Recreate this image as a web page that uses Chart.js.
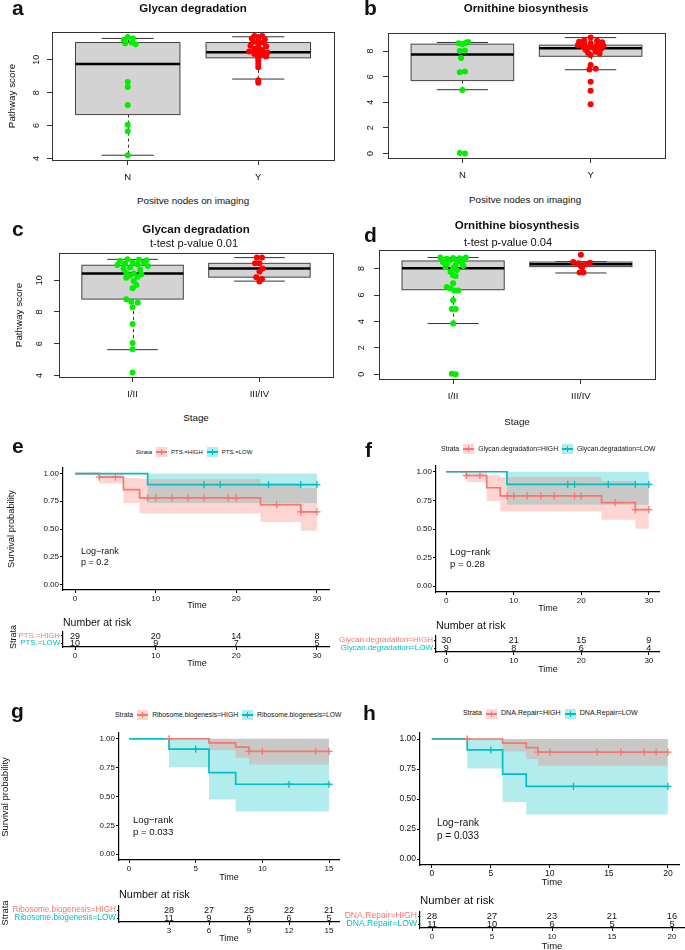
<!DOCTYPE html>
<html>
<head>
<meta charset="utf-8">
<script src="https://cdn.jsdelivr.net/npm/chart.js@4.4.1/dist/chart.umd.min.js"></script>
<style>
  html, body { margin: 0; padding: 0; background: #fff; }
  #fig { position: relative; width: 685px; height: 950px; overflow: hidden; font-family: 'Liberation Sans', Arial, sans-serif; color: #111; }
  #fig canvas { position: absolute; }
  .t { position: absolute; line-height: 1; white-space: nowrap; transform: translate(-50%, -50%); }
  .l { position: absolute; line-height: 1; white-space: nowrap; transform: translate(0, -50%); }
  .r { transform: translate(-50%, -50%) rotate(-90deg); }
  .lbl { position: absolute; font-weight: bold; font-size: 21px; line-height: 1; }
  .leg { position: absolute; display: flex; align-items: center; line-height: 1; transform: translateY(-50%); white-space: nowrap; }
  .key { position: relative; display: inline-block; width: 11px; height: 10px; margin-right: 4px; }
  .key i { position: absolute; left: 0; right: 0; top: 4.4px; height: 1.2px; }
  .key b { position: absolute; left: 4.9px; width: 1.2px; top: 2px; height: 6px; }
</style>
</head>
<body>
<div id="fig"></div>
<script>
// ---------- box plot data (a-d) ----------
const nodeCats = ['N', 'Y'];
const stageCats = ['I/II', 'III/IV'];
const glycanTicks = [4, 6, 8, 10];
const ornTicks = [0, 2, 4, 6, 8];

// [lower whisker, Q1, median, Q3, upper whisker] per group
const aBox = [[4.2, 6.67, 9.75, 11.05, 11.3], [8.83, 10.12, 10.46, 11.05, 11.4]];
const bBox = [[4.98, 5.69, 7.72, 8.54, 8.67], [6.54, 7.59, 8.21, 8.46, 9.05]];
const cBox = [[5.63, 8.81, 10.42, 10.94, 11.31], [9.94, 10.19, 10.73, 11.06, 11.42]];
const dBox = [[3.84, 6.4, 8.03, 8.58, 8.84], [7.67, 8.15, 8.33, 8.5, 8.53]];

// beeswarm points: values and horizontal offsets (category units)
const aNVals = [11.38, 11.3, 11.22, 11.05, 11.0, 10.95, 8.65, 8.35, 7.25, 6.05, 5.65, 4.2];
const aNOff = [0.0, 0.04, -0.03, 0.03, -0.02, 0.06, 0, 0, 0, 0, 0, 0];
const aYVals = [11.45, 11.45, 11.38, 11.3, 11.25, 11.18, 11.1, 11.05, 10.95, 10.85, 10.82, 10.75, 10.65, 10.6,
  10.5, 10.48, 10.45, 10.35, 10.3, 10.25, 10.2, 10.1, 9.95, 9.75, 9.55, 8.75, 8.6];
const aYOff = [-0.03, 0.03, 0.0, -0.05, 0.05, 0.0, -0.04, 0.04, 0.0, -0.06, 0.06, 0.0, -0.03, 0.03,
  -0.07, 0.0, 0.07, -0.03, 0.03, 0.0, 0.06, 0.0, 0.0, 0.0, 0.0, 0.0, 0.0];

const bNVals = [8.7, 8.62, 8.6, 8.55, 8.05, 8.0, 7.45, 6.4, 6.35, 4.95, 0.03, 0.0];
const bNOff = [0.045, 0.025, -0.03, 0.0, 0.02, -0.02, -0.01, 0.02, -0.02, 0.0, -0.02, 0.02];
const bYVals = [9.05, 8.85, 8.8, 8.72, 8.68, 8.62, 8.55, 8.5, 8.45, 8.42, 8.38, 8.35, 8.3, 8.25, 8.2, 8.15, 8.1,
  7.95, 7.85, 7.8, 7.7, 6.9, 6.62, 6.55, 5.6, 4.9, 3.85];
const bYOff = [0.0, -0.05, 0.05, -0.09, 0.09, 0.0, -0.05, 0.05, -0.1, 0.1, 0.0, -0.06, 0.06, -0.02, 0.03, 0.08, -0.04,
  0.04, -0.02, 0.07, 0.0, 0.0, 0.04, -0.01, 0.0, 0.0, 0.0];

const cLowVals = [11.32, 11.28, 11.25, 11.2, 11.12, 11.1, 11.05, 11.0, 10.95, 10.9, 10.8, 10.72, 10.65, 10.45, 10.42,
  10.38, 10.3, 10.22, 10.15, 9.95, 9.7, 9.5, 8.8, 8.65, 8.6, 8.3, 7.25, 6.05, 5.65, 4.2];
const cLowOff = [-0.04, 0.05, 0.11, -0.1, 0.0, 0.09, -0.06, 0.04, -0.12, 0.12, -0.02, -0.07, 0.06, -0.05, 0.01,
  0.07, -0.02, 0.04, -0.05, 0.01, 0.03, 0.0, -0.05, -0.01, 0.04, 0.0, 0.0, 0.0, 0.0, 0.0];
const cHighVals = [11.42, 11.42, 11.06, 11.06, 10.73, 10.54, 10.19, 10.08, 9.92];
const cHighOff = [-0.02, 0.02, -0.035, 0.0, 0.025, 0.0, -0.025, 0.02, 0.0];

const dLowVals = [8.85, 8.85, 8.8, 8.78, 8.75, 8.7, 8.62, 8.55, 8.5, 8.45, 8.32, 8.28, 8.2, 8.1, 8.05, 7.9, 7.75,
  7.5, 7.45, 6.9, 6.6, 6.5, 6.35, 6.35, 5.6, 4.95, 4.95, 3.85, 0.03, 0.0];
const dLowOff = [-0.1, 0.1, 0.0, 0.05, -0.05, 0.08, -0.03, 0.03, -0.08, 0.07, -0.05, 0.02, 0.08, -0.06, 0.0, 0.03,
  -0.02, 0.0, 0.02, 0.0, -0.05, -0.02, 0.01, 0.04, 0.0, -0.01, 0.02, 0.0, -0.01, 0.02];
const dHighVals = [9.05, 8.5, 8.45, 8.4, 8.35, 8.2, 8.1, 7.7, 7.7];
const dHighOff = [0.0, -0.06, 0.07, -0.02, 0.04, 0.0, 0.01, -0.01, 0.02];

// ---------- survival data (e-h) ----------
const survTicks = [0, 0.25, 0.5, 0.75, 1];

const ptsHighT = [0, 3, 6, 8, 23, 28, 30];
const ptsHighS = [1, 0.967, 0.855, 0.78, 0.72, 0.655, 0.655];
const ptsHighLo = [1, 0.91, 0.735, 0.64, 0.563, 0.485, 0.485];
const ptsHighUp = [1, 1, 0.96, 0.95, 0.91, 0.87, 0.87];
const ptsHighCens = [3, 5, 9, 10, 12, 14, 16, 19, 20, 25, 28, 30];
const ptsLowT = [0, 9, 30];
const ptsLowS = [1, 0.9, 0.9];
const ptsLowLo = [1, 0.735, 0.735];
const ptsLowUp = [1, 1, 1];
const ptsLowCens = [16, 18, 24, 28, 30];

const glyHighT = [0, 3, 6, 8, 23, 28, 30];
const glyHighS = [1, 0.967, 0.86, 0.79, 0.73, 0.67, 0.67];
const glyHighLo = [1, 0.91, 0.744, 0.653, 0.58, 0.503, 0.503];
const glyHighUp = [1, 1, 0.97, 0.955, 0.92, 0.88, 0.88];
const glyHighCens = [3, 5, 9, 10, 12, 14, 16, 19, 20, 25, 28, 30];
const glyLowT = [0, 9, 30];
const glyLowS = [1, 0.89, 0.89];
const glyLowLo = [1, 0.712, 0.712];
const glyLowUp = [1, 1, 1];
const glyLowCens = [18, 19, 24, 28, 30];

const riboHighT = [0, 6, 8, 9, 15];
const riboHighS = [1, 0.965, 0.928, 0.89, 0.89];
const riboHighLo = [1, 0.9, 0.835, 0.777, 0.777];
const riboHighUp = [1, 1, 1, 1, 1];
const riboHighCens = [3, 9, 10, 14, 15];
const riboLowT = [0, 3, 6, 8, 15];
const riboLowS = [1, 0.91, 0.707, 0.606, 0.606];
const riboLowLo = [1, 0.754, 0.475, 0.371, 0.371];
const riboLowUp = [1, 1, 1, 1, 1];
const riboLowCens = [5, 12, 15];

const dnaHighT = [0, 6, 8, 9, 20];
const dnaHighS = [1, 0.965, 0.928, 0.89, 0.89];
const dnaHighLo = [1, 0.895, 0.833, 0.777, 0.777];
const dnaHighUp = [1, 1, 1, 1, 1];
const dnaHighCens = [3, 9, 10, 14, 16, 18, 19, 20];
const dnaLowT = [0, 3, 6, 8, 20];
const dnaLowS = [1, 0.91, 0.707, 0.606, 0.606];
const dnaLowLo = [1, 0.755, 0.476, 0.37, 0.37];
const dnaLowUp = [1, 1, 1, 1, 1];
const dnaLowCens = [5, 12, 20];

// numbers at risk
const ptsRiskTimes = [0, 10, 20, 30];
const ptsRiskHigh = [29, 20, 14, 8];
const ptsRiskLow = [10, 9, 7, 5];
const glyRiskTimes = [0, 10, 20, 30];
const glyRiskHigh = [30, 21, 15, 9];
const glyRiskLow = [9, 8, 6, 4];
const riboRiskTimes = [3, 6, 9, 12, 15];
const riboRiskHigh = [28, 27, 25, 22, 21];
const riboRiskLow = [11, 9, 6, 6, 5];
const dnaRiskTimes = [0, 5, 10, 15, 20];
const dnaRiskHigh = [28, 27, 23, 21, 16];
const dnaRiskLow = [11, 10, 6, 5, 5];

// ---------- setup ----------
const FONT = "'Liberation Sans', Arial, sans-serif";
Chart.defaults.font.family = FONT;
Chart.defaults.color = '#111';
Chart.defaults.animation = false;
Chart.defaults.events = [];
Chart.defaults.plugins.legend.display = false;
Chart.defaults.plugins.tooltip.enabled = false;

const RED = '#F8766D', TEAL = '#00BFC4';
const RED_BAND = 'rgba(248,118,109,0.3)', TEAL_BAND = 'rgba(0,191,196,0.3)';
const GREEN_PT = '#00ee00', RED_PT = '#ff0000';

const fig = document.getElementById('fig');

// canvas placed so that the chart area lands on `area` [L, T, R, B]; m = [left, top, right, bottom] margins
function canvasFor(area, m) {
  const c = document.createElement('canvas');
  const w = area[2] - area[0] + m[0] + m[2];
  const h = area[3] - area[1] + m[1] + m[3];
  c.width = w; c.height = h;
  c.style.left = (area[0] - m[0]) + 'px';
  c.style.top = (area[1] - m[1]) + 'px';
  c.style.width = w + 'px'; c.style.height = h + 'px';
  fig.appendChild(c);
  return c;
}
const fixedTicks = arr => s => { s.ticks = arr.map(v => ({ value: v })); };

// R-style boxplot + frame, drawn under the points
const boxPlugin = {
  id: 'rbox',
  beforeDatasetsDraw(chart, args, opts) {
    const { ctx, chartArea: a, scales: { x, y } } = chart;
    ctx.save();
    opts.stats.forEach((s, i) => {
      const c = i + 1;
      const xl = x.getPixelForValue(c - 0.4), xr = x.getPixelForValue(c + 0.4);
      const sl = x.getPixelForValue(c - 0.2), sr = x.getPixelForValue(c + 0.2);
      const xc = Math.round(x.getPixelForValue(c)) + 0.5;
      const [lo, q1, md, q3, hi] = s.map(v => y.getPixelForValue(v));
      ctx.lineWidth = 1;
      ctx.strokeStyle = '#333';
      ctx.setLineDash([3, 3]);
      ctx.beginPath();
      ctx.moveTo(xc, q3); ctx.lineTo(xc, hi);
      ctx.moveTo(xc, q1); ctx.lineTo(xc, lo);
      ctx.stroke();
      ctx.setLineDash([]);
      ctx.beginPath();
      ctx.moveTo(sl, hi); ctx.lineTo(sr, hi);
      ctx.moveTo(sl, lo); ctx.lineTo(sr, lo);
      ctx.stroke();
      ctx.fillStyle = '#d3d3d3';
      ctx.fillRect(xl, q3, xr - xl, q1 - q3);
      ctx.strokeStyle = '#444';
      ctx.strokeRect(xl, q3, xr - xl, q1 - q3);
      ctx.lineWidth = 2.5;
      ctx.strokeStyle = '#000';
      ctx.beginPath(); ctx.moveTo(xl, md); ctx.lineTo(xr, md); ctx.stroke();
    });
    ctx.lineWidth = 1;
    ctx.strokeStyle = '#333';
    ctx.strokeRect(a.left + 0.5, a.top + 0.5, a.right - a.left, a.bottom - a.top);
    ctx.restore();
  }
};

function boxChart(area, m, cats, stats, groups, yRange, yTicks, yPad) {
  new Chart(canvasFor(area, m), {
    type: 'scatter',
    data: {
      datasets: groups.map((g, i) => ({
        data: g.v.map((v, k) => ({ x: i + 1 + g.o[k], y: v })),
        backgroundColor: g.c, borderWidth: 0, pointRadius: 3
      }))
    },
    options: {
      responsive: false,
      layout: { padding: { left: 0, top: m[1], right: m[2], bottom: 0 } },
      scales: {
        x: {
          type: 'linear', min: 0.42, max: 2.58,
          afterBuildTicks: fixedTicks([1, 2]),
          ticks: { callback: (v, i) => cats[i], font: { size: 9.5 }, color: '#111', padding: 7, autoSkip: false, maxRotation: 0 },
          grid: { drawOnChartArea: false, tickLength: 5, color: '#333' },
          border: { display: false },
          afterFit: s => { s.height = m[3]; }
        },
        y: {
          type: 'linear', min: yRange[0], max: yRange[1],
          afterBuildTicks: fixedTicks(yTicks),
          ticks: { minRotation: 90, maxRotation: 90, crossAlign: 'center', padding: yPad, font: { size: 9 }, color: '#111', autoSkip: false },
          grid: { drawOnChartArea: false, tickLength: 5, color: '#333' },
          border: { display: false },
          afterFit: s => { s.width = m[0]; }
        }
      },
      plugins: { rbox: { stats } }
    },
    plugins: [boxPlugin]
  });
}

// survival value at time c from a step curve
function survAt(t, s, c) {
  let v = s[0];
  t.forEach((x, i) => { if (x <= c) v = s[i]; });
  return v;
}
const xy = (t, v) => t.map((x, i) => ({ x, y: v[i] }));

function kmAxes(m, xMax, xTicks, tickFont) {
  const axisBase = {
    grid: { drawOnChartArea: false, tickLength: 3, color: '#000', lineWidth: 1 },
    border: { display: true, color: '#000', width: 1.2 }
  };
  return {
    x: Object.assign({
      type: 'linear', min: -xMax * 0.05, max: xMax * 1.05,
      afterBuildTicks: fixedTicks(xTicks),
      ticks: { font: { size: tickFont }, color: '#111', padding: 1, autoSkip: false, maxRotation: 0 },
      afterFit: s => { s.height = m[3]; }
    }, axisBase),
    y: Object.assign({
      type: 'linear', min: -0.05, max: 1.05,
      afterBuildTicks: fixedTicks(survTicks),
      ticks: { callback: v => v.toFixed(2), font: { size: tickFont }, color: '#111', padding: 1, autoSkip: false },
      afterFit: s => { s.width = m[0]; }
    }, axisBase)
  };
}

function kmChart(area, m, xMax, xTicks, tickFont, strata) {
  const datasets = [];
  strata.forEach(g => {
    datasets.push({ data: xy(g.t, g.lo), stepped: true, borderWidth: 0, borderColor: 'transparent', pointRadius: 0, fill: false, order: 3 });
    datasets.push({ data: xy(g.t, g.up), stepped: true, borderWidth: 0, borderColor: 'transparent', pointRadius: 0, fill: '-1', backgroundColor: g.band, order: 3 });
  });
  strata.forEach((g, k) => {
    datasets.push({ data: xy(g.t, g.s), stepped: true, borderColor: g.line, borderWidth: 1.7, pointRadius: 0, fill: false, order: 2 - k * 0.5 });
    datasets.push({
      data: g.cens.map(c => ({ x: c, y: survAt(g.t, g.s, c) })),
      showLine: false, pointStyle: 'cross', pointRadius: 3.6, borderWidth: 1.3,
      borderColor: g.line, backgroundColor: g.line, order: 1 - k * 0.5
    });
  });
  new Chart(canvasFor(area, m), {
    type: 'line',
    data: { datasets },
    options: {
      responsive: false,
      layout: { padding: { left: 0, top: m[1], right: m[2], bottom: 0 } },
      scales: kmAxes(m, xMax, xTicks, tickFont)
    }
  });
}

const riskPlugin = {
  id: 'risk',
  afterDraw(chart, args, opts) {
    const { ctx, scales: { x, y } } = chart;
    ctx.save();
    ctx.fillStyle = '#111';
    ctx.font = opts.size + 'px ' + FONT;
    ctx.textAlign = 'center';
    ctx.textBaseline = 'middle';
    opts.rows.forEach((row, i) => row.forEach((n, j) => {
      ctx.fillText(String(n), x.getPixelForValue(opts.times[j]), y.getPixelForValue(i) + 0.5);
    }));
    ctx.restore();
  }
};

function riskChart(area, m, xMax, times, rows, labels, labelFont, numFont) {
  const axes = kmAxes(m, xMax, times, 8);
  axes.y = {
    type: 'category', labels, offset: true,
    ticks: { color: c => [RED, TEAL][c.index], font: { size: labelFont }, padding: 1, autoSkip: false },
    grid: { drawOnChartArea: false, tickLength: 2, color: '#000' },
    border: { display: true, color: '#000', width: 1.2 },
    afterFit: s => { s.width = m[0]; }
  };
  new Chart(canvasFor(area, m), {
    type: 'line',
    data: { datasets: [] },
    options: {
      responsive: false,
      layout: { padding: { left: 0, top: m[1], right: m[2], bottom: 0 } },
      scales: axes,
      plugins: { risk: { rows, times, size: numFont } }
    },
    plugins: [riskPlugin]
  });
}

// ---------- charts ----------
boxChart([52, 32, 334, 160], [40, 18, 6, 30], nodeCats, aBox,
  [{ v: aNVals, o: aNOff, c: GREEN_PT }, { v: aYVals, o: aYOff, c: RED_PT }], [3.91, 11.69], glycanTicks, 5);
boxChart([388, 33, 665, 158], [40, 18, 10, 30], nodeCats, bBox,
  [{ v: bNVals, o: bNOff, c: GREEN_PT }, { v: bYVals, o: bYOff, c: RED_PT }], [-0.36, 9.41], ornTicks, 9.5);
boxChart([59, 253, 333, 377], [40, 18, 7, 30], stageCats, cBox,
  [{ v: cLowVals, o: cLowOff, c: GREEN_PT }, { v: cHighVals, o: cHighOff, c: RED_PT }], [3.91, 11.71], glycanTicks, 9);
boxChart([379, 250, 655, 379], [40, 18, 10, 30], stageCats, dBox,
  [{ v: dLowVals, o: dLowOff, c: GREEN_PT }, { v: dHighVals, o: dHighOff, c: RED_PT }], [-0.36, 9.41], ornTicks, 9.8);

kmChart([63, 468, 329, 590], [50, 10, 8, 16], 30, [0, 10, 20, 30], 8, [
  { t: ptsHighT, s: ptsHighS, lo: ptsHighLo, up: ptsHighUp, cens: ptsHighCens, line: RED, band: RED_BAND },
  { t: ptsLowT, s: ptsLowS, lo: ptsLowLo, up: ptsLowUp, cens: ptsLowCens, line: TEAL, band: TEAL_BAND }
]);
kmChart([436, 466, 659, 592], [40, 10, 10, 16], 30, [0, 10, 20, 30], 8, [
  { t: glyHighT, s: glyHighS, lo: glyHighLo, up: glyHighUp, cens: glyHighCens, line: RED, band: RED_BAND },
  { t: glyLowT, s: glyLowS, lo: glyLowLo, up: glyLowUp, cens: glyLowCens, line: TEAL, band: TEAL_BAND }
]);
kmChart([119, 733, 339, 860], [40, 10, 8, 16], 15, [0, 5, 10, 15], 8, [
  { t: riboHighT, s: riboHighS, lo: riboHighLo, up: riboHighUp, cens: riboHighCens, line: RED, band: RED_BAND },
  { t: riboLowT, s: riboLowS, lo: riboLowLo, up: riboLowUp, cens: riboLowCens, line: TEAL, band: TEAL_BAND }
]);
kmChart([420, 733, 684, 865], [40, 10, 1, 16], 20, [0, 5, 10, 15, 20], 8.5, [
  { t: dnaHighT, s: dnaHighS, lo: dnaHighLo, up: dnaHighUp, cens: dnaHighCens, line: RED, band: RED_BAND },
  { t: dnaLowT, s: dnaLowS, lo: dnaLowLo, up: dnaLowUp, cens: dnaLowCens, line: TEAL, band: TEAL_BAND }
]);

riskChart([63, 632, 329, 647], [60, 8, 8, 14], 30, ptsRiskTimes, [ptsRiskHigh, ptsRiskLow],
  ['PTS.=HIGH', 'PTS.=LOW'], 7.8, 9);
riskChart([436, 636, 659, 652], [116, 8, 10, 14], 30, glyRiskTimes, [glyRiskHigh, glyRiskLow],
  ['Glycan.degradation=HIGH', 'Glycan.degradation=LOW'], 8, 9);
riskChart([119, 906, 339, 922], [116, 8, 8, 14], 15, riboRiskTimes, [riboRiskHigh, riboRiskLow],
  ['Ribosome.biogenesis=HIGH', 'Ribosome.biogenesis=LOW'], 8.2, 9);
riskChart([420, 912, 684, 928], [110, 8, 1, 14], 20, dnaRiskTimes, [dnaRiskHigh, dnaRiskLow],
  ['DNA.Repair=HIGH', 'DNA.Repair=LOW'], 8.6, 9.3);

// ---------- text ----------
function text(s, x, y, cls, size, extra) {
  const d = document.createElement('div');
  d.className = cls;
  d.textContent = s;
  d.style.left = x + 'px';
  d.style.top = y + 'px';
  if (size) d.style.fontSize = size + 'px';
  if (extra) Object.assign(d.style, extra);
  fig.appendChild(d);
}
const bold = { fontWeight: 'bold' };

// panel letters (top = baseline - 0.85 * size)
[['a', 12, -3], ['b', 364, -3], ['c', 12, 218], ['d', 364, 224],
 ['e', 12, 435], ['f', 365, 439], ['g', 11, 700], ['h', 363, 702]].forEach(p => text(p[0], p[1], p[2], 'lbl'));

// box plot titles / axes
text('Glycan degradation', 193, 9, 't', 11.5, bold);
text('Ornithine biosynthesis', 526, 9, 't', 11.5, bold);
text('Pathway score', 12, 96, 't r', 9.8);
text('Positve nodes on imaging', 193, 201, 't', 9.8);
text('Positve nodes on imaging', 525, 200, 't', 9.8);
text('Glycan degradation', 196, 230, 't', 11.5, bold);
text('t-test p-value 0.01', 194, 243, 't', 11);
text('Pathway score', 19, 315, 't r', 9.8);
text('Stage', 196, 418, 't', 9.8);
text('Ornithine biosynthesis', 517, 226, 't', 11.5, bold);
text('t-test p-value 0.04', 508, 242, 't', 11);
text('Stage', 517, 422, 't', 9.8);

// survival legends
function legend(x, y, size, names) {
  const d = document.createElement('div');
  d.className = 'leg';
  d.style.left = x + 'px';
  d.style.top = y + 'px';
  d.style.fontSize = size + 'px';
  const lines = [RED, TEAL], bands = [RED_BAND, TEAL_BAND];
  d.innerHTML = '<span style="margin-right:4px">Strata</span>' + names.map((n, i) =>
    `<span class="key" style="background:${bands[i]}"><i style="background:${lines[i]}"></i><b style="background:${lines[i]}"></b></span>` +
    `<span style="margin-right:4px">${n}</span>`).join('');
  fig.appendChild(d);
}
legend(136, 452, 6, ['PTS.=HIGH', 'PTS.=LOW']);
legend(441, 449, 6.8, ['Glycan.degradation=HIGH', 'Glycan.degradation=LOW']);
legend(115, 715, 6.8, ['Ribosome.biogenesis=HIGH', 'Ribosome.biogenesis=LOW']);
legend(463, 714, 7.1, ['DNA.Repair=HIGH', 'DNA.Repair=LOW']);

// e
text('Survival probability', 12, 529, 't r', 9.3);
text('Log\u2212rank', 81, 551, 'l', 9);
text('p = 0.2', 81, 562, 'l', 9);
text('Time', 197, 605, 't', 9);
text('Number at risk', 63, 622, 'l', 10.5);
text('Strata', 13, 637, 't r', 9);
text('Time', 197, 663, 't', 9);
// f
text('Log\u2212rank', 450, 552, 'l', 9.6);
text('p = 0.28', 450, 564, 'l', 9.6);
text('Time', 548, 608, 't', 9);
text('Number at risk', 436, 625, 'l', 10.7);
text('Time', 548, 669, 't', 9);
// g
text('Survival probability', 5, 797, 't r', 9.5);
text('Log\u2212rank', 133, 820, 'l', 9.6);
text('p = 0.033', 133, 832, 'l', 9.6);
text('Time', 229, 877, 't', 9);
text('Number at risk', 119, 894, 'l', 10.9);
text('Strata', 5, 913, 't r', 9.4);
text('Time', 229, 938, 't', 9);
// h
text('Log\u2212rank', 437, 823, 'l', 10);
text('p = 0.033', 437, 836, 'l', 10);
text('Time', 552, 882, 't', 9.5);
text('Number at risk', 420, 901, 'l', 11.4);
text('Time', 552, 946, 't', 9.5);
</script>
</body>
</html>
